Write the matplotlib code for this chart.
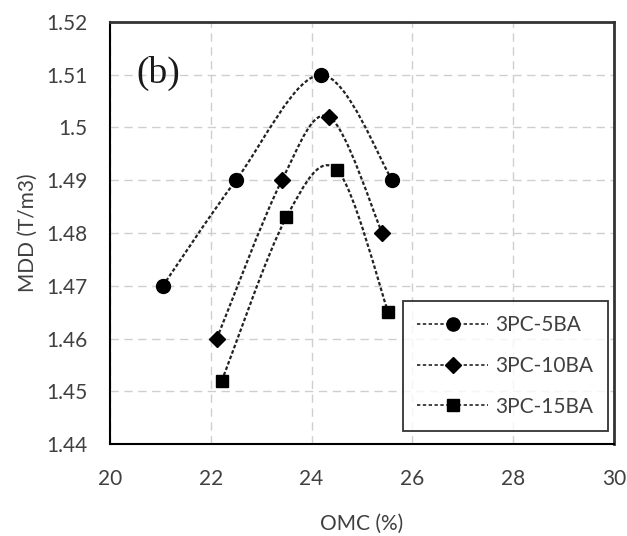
import numpy as np
import matplotlib
matplotlib.use('Agg')
import matplotlib.pyplot as plt
from matplotlib.path import Path
from matplotlib.patches import PathPatch
from matplotlib.lines import Line2D

# OMC (%) and MDD (T/m3) for each mix
omc_5ba = [21.05, 22.5, 24.19, 25.6]
mdd_5ba = [1.470, 1.490, 1.510, 1.490]
omc_10ba = [22.12, 23.41, 24.35, 25.4]
mdd_10ba = [1.460, 1.490, 1.502, 1.480]
omc_15ba = [22.22, 23.5, 24.5, 25.52]
mdd_15ba = [1.452, 1.483, 1.492, 1.465]

labels = ['3PC-5BA', '3PC-10BA', '3PC-15BA']
markers = ['o', 'D', 's']
msizes = [10, 8.5, 9]

text_col = '#404040'
plt.rcParams['font.family'] = ['Lato', 'DejaVu Sans']


def smooth_path(xs, ys):
    # Excel style smoothed line: cubic bezier between neighbours
    pts = np.column_stack([xs, ys]).astype(float)
    n = len(pts)
    verts = [pts[0]]
    codes = [Path.MOVETO]
    for i in range(n - 1):
        p0 = pts[i - 1] if i > 0 else pts[i]
        p1 = pts[i]
        p2 = pts[i + 1]
        p3 = pts[i + 2] if i + 2 < n else pts[i + 1]
        c1 = p1 + (p2 - p0) / 6.0
        c2 = p2 - (p3 - p1) / 6.0
        verts += [c1, c2, p2]
        codes += [Path.CURVE4] * 3
    return Path(verts, codes)


fig = plt.figure(figsize=(6.27, 5.36), dpi=100)
ax = fig.add_axes([0.1754, 0.1716, 0.8039, 0.7874])

series = [(omc_5ba, mdd_5ba), (omc_10ba, mdd_10ba), (omc_15ba, mdd_15ba)]
handles = []
for (xs, ys), lab, m, ms in zip(series, labels, markers, msizes):
    patch = PathPatch(smooth_path(xs, ys), facecolor='none', edgecolor='#222222',
                      linewidth=1.6, linestyle=(0, (1.6, 1.0)), zorder=3)
    ax.add_patch(patch)
    ax.plot(xs, ys, linestyle='none', marker=m, markersize=ms, color='black', zorder=4)
    handles.append(Line2D([], [], color='#222222', linewidth=1.2, linestyle=(0, (2, 1.5)),
                          marker=m, markersize=ms * 0.95, markerfacecolor='black',
                          markeredgecolor='black'))

ax.set_xlim(20, 30)
ax.set_ylim(1.44, 1.52)
ax.set_xticks([20, 22, 24, 26, 28, 30])
ax.set_yticks([1.44, 1.45, 1.46, 1.47, 1.48, 1.49, 1.5, 1.51, 1.52])
ax.set_yticklabels(['1.44', '1.45', '1.46', '1.47', '1.48', '1.49', '1.5', '1.51', '1.52'])
ax.tick_params(length=0, labelsize=15, colors=text_col)
ax.tick_params(axis='y', pad=16)
ax.tick_params(axis='x', pad=18)
ax.grid(True, color='#cfcfcf', linestyle=(0, (6, 4)), linewidth=1.0)
ax.set_axisbelow(True)
for side in ['left', 'bottom']:
    ax.spines[side].set_linewidth(1.5)
    ax.spines[side].set_color('black')
for side in ['top', 'right']:
    ax.spines[side].set_linewidth(2.0)
    ax.spines[side].set_color('#333333')

ax.set_xlabel('OMC (%)', fontsize=15, color=text_col, labelpad=18)
ax.set_ylabel('MDD (T/m3)', fontsize=15, color=text_col, labelpad=6)

ax.text(0.052, 0.855, '(b)', transform=ax.transAxes, fontsize=27,
        family='Liberation Serif', color='#1a1a1a')

leg = ax.legend(handles, labels, loc='lower right', bbox_to_anchor=(0.988, 0.03),
                fontsize=15, frameon=True, fancybox=False, edgecolor='black',
                handlelength=3.4, handletextpad=0.35, labelspacing=1.0,
                borderpad=0.7, borderaxespad=0.0, labelcolor=text_col)
leg.get_frame().set_linewidth(1.3)

fig.savefig('out.png', dpi=100)
